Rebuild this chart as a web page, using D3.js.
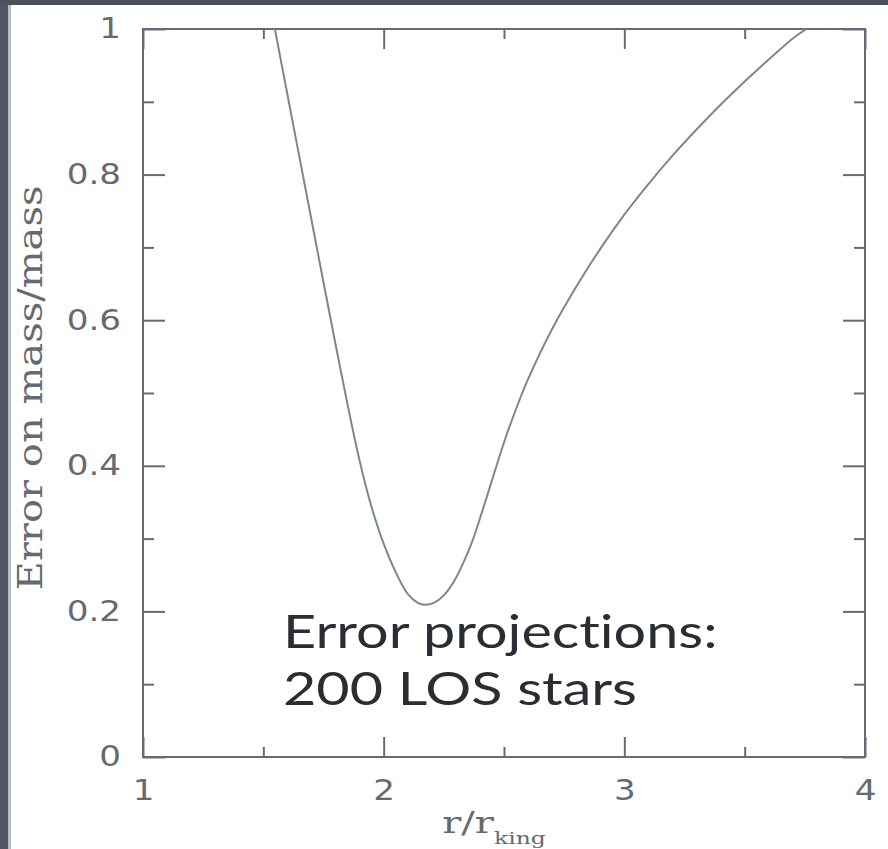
<!DOCTYPE html>
<html>
<head>
<meta charset="utf-8">
<script src="https://cdn.jsdelivr.net/npm/d3@7"></script>
<style>
  html, body { margin: 0; padding: 0; background: #ffffff; }
  svg { display: block; }
  text { font-variant-ligatures: none; }
</style>
</head>
<body>
<svg id="chart" width="888" height="849"></svg>
<script>
// Fractional mass error versus radius (in units of the King radius)
const radius    = [1.548, 1.60, 1.65, 1.70, 1.75, 1.80, 1.85, 1.90, 1.95, 2.00, 2.05, 2.10, 2.14, 2.17, 2.21, 2.25, 2.29, 2.33, 2.37, 2.41, 2.45, 2.50, 2.55, 2.60, 2.70, 2.80, 2.90, 3.00, 3.10, 3.20, 3.30, 3.40, 3.50, 3.60, 3.70, 3.757];
const massError = [1.000, 0.910, 0.824, 0.738, 0.652, 0.567, 0.484, 0.407, 0.343, 0.293, 0.254, 0.224, 0.212, 0.209, 0.212, 0.222, 0.240, 0.266, 0.298, 0.338, 0.380, 0.432, 0.478, 0.519, 0.588, 0.646, 0.698, 0.745, 0.787, 0.826, 0.862, 0.896, 0.928, 0.958, 0.987, 1.000];

// Axis ticks and labels
const xMajor = [1, 2, 3, 4];
const xMinor = [1.5, 2.5, 3.5];
const yMajor = [0, 0.2, 0.4, 0.6, 0.8, 1];
const yMinor = [0.1, 0.3, 0.5, 0.7, 0.9];
const yTickLabels = ["0", "0.2", "0.4", "0.6", "0.8", "1"];
const xTickLabels = ["1", "2", "3", "4"];
const yTitle = "Error on mass/mass";
const xTitleMain = "r/r";
const xTitleSub = "king";
const noteLines = ["Error projections:", "200 LOS stars"];

const svg = d3.select("#chart");
const W = 888, H = 849;
const plotL = 143, plotR = 865, plotT = 29, plotB = 757;

const frameColor = "#636d77";
const labelColor = "#666a70";
const stretch = 1.22;

// Slide edge
svg.append("rect").attr("x", 0).attr("y", 0).attr("width", W).attr("height", H).attr("fill", "#ffffff");
svg.append("rect").attr("x", 0).attr("y", 0).attr("width", 8).attr("height", H).attr("fill", "#50555f");
svg.append("rect").attr("x", 8).attr("y", 0).attr("width", 3).attr("height", H).attr("fill", "#b9bdc3");
svg.append("rect").attr("x", 0).attr("y", 0).attr("width", W).attr("height", 5).attr("fill", "#4c515b");

const x = d3.scaleLinear().domain([1, 4]).range([plotL, plotR]);
const y = d3.scaleLinear().domain([0, 1]).range([plotB, plotT]);

function styleAxis(g) {
  g.select(".domain").remove();
  g.selectAll(".tick line").attr("stroke", frameColor).attr("stroke-width", 2);
}

// Major ticks with labels (bottom, left)
const gx = svg.append("g").attr("transform", `translate(0,${plotB})`)
  .call(d3.axisBottom(x).tickValues(xMajor).tickSize(-20).tickPadding(23)
    .tickFormat((d, i) => xTickLabels[i]));
styleAxis(gx);
gx.selectAll(".tick text")
  .attr("font-family", "DejaVu Sans").attr("font-size", 28).attr("fill", labelColor)
  .attr("x", 0)
  .attr("transform", `scale(${stretch},1)`);

const gy = svg.append("g").attr("transform", `translate(${plotL},0)`)
  .call(d3.axisLeft(y).tickValues(yMajor).tickSize(-22).tickPadding(22)
    .tickFormat((d, i) => yTickLabels[i]));
styleAxis(gy);
gy.selectAll(".tick text")
  .attr("font-family", "DejaVu Sans").attr("font-size", 28).attr("fill", labelColor)
  .attr("x", 0)
  .attr("transform", `translate(-22,0) scale(${stretch},1)`);

// Minor ticks (bottom, left)
const gxm = svg.append("g").attr("transform", `translate(0,${plotB})`)
  .call(d3.axisBottom(x).tickValues(xMinor).tickSize(-10).tickFormat(""));
styleAxis(gxm);
const gym = svg.append("g").attr("transform", `translate(${plotL},0)`)
  .call(d3.axisLeft(y).tickValues(yMinor).tickSize(-11).tickFormat(""));
styleAxis(gym);

// Mirrored ticks (top, right)
const gxt = svg.append("g").attr("transform", `translate(0,${plotT})`)
  .call(d3.axisTop(x).tickValues(xMajor).tickSize(-20).tickFormat(""));
styleAxis(gxt);
const gxtm = svg.append("g").attr("transform", `translate(0,${plotT})`)
  .call(d3.axisTop(x).tickValues(xMinor).tickSize(-10).tickFormat(""));
styleAxis(gxtm);
const gyr = svg.append("g").attr("transform", `translate(${plotR},0)`)
  .call(d3.axisRight(y).tickValues(yMajor).tickSize(-22).tickFormat(""));
styleAxis(gyr);
const gyrm = svg.append("g").attr("transform", `translate(${plotR},0)`)
  .call(d3.axisRight(y).tickValues(yMinor).tickSize(-11).tickFormat(""));
styleAxis(gyrm);

// Plot frame
svg.append("rect")
  .attr("x", plotL).attr("y", plotT).attr("width", plotR - plotL).attr("height", plotB - plotT)
  .attr("fill", "none").attr("stroke", frameColor).attr("stroke-width", 2);

// Curve
svg.append("clipPath").attr("id", "plotClip").append("rect")
  .attr("x", plotL).attr("y", plotT).attr("width", plotR - plotL).attr("height", plotB - plotT);
const pts = radius.map((r, i) => [r, massError[i]]);
svg.append("path")
  .datum(pts)
  .attr("clip-path", "url(#plotClip)")
  .attr("fill", "none")
  .attr("stroke", "#7c8891")
  .attr("stroke-width", 2)
  .attr("d", d3.line().x(d => x(d[0])).y(d => y(d[1])).curve(d3.curveCatmullRom.alpha(0.5)));

// Axis titles
svg.append("text")
  .attr("transform", `translate(42,388) scale(${stretch},1) rotate(-90)`)
  .attr("text-anchor", "middle")
  .attr("font-family", "DejaVu Serif").attr("font-size", 27).attr("fill", labelColor)
  .attr("textLength", 405).attr("lengthAdjust", "spacingAndGlyphs")
  .text(yTitle);

const xt = svg.append("text")
  .attr("transform", `translate(494,833) scale(1.38,1)`)
  .attr("text-anchor", "middle")
  .attr("font-family", "DejaVu Serif").attr("fill", labelColor);
xt.append("tspan").attr("font-size", 29).text(xTitleMain);
xt.append("tspan").attr("font-size", 17).attr("dy", 11).text(xTitleSub);

// Annotation
const note = svg.append("g").attr("transform", `translate(283,0)`);
noteLines.forEach((line, i) => {
  note.append("text")
    .attr("transform", `translate(0,${648 + i * 57}) scale(1.25,1)`)
    .attr("font-family", "Lato").attr("font-size", 46).attr("fill", "#2a2d33")
    .text(line);
});
</script>
</body>
</html>
